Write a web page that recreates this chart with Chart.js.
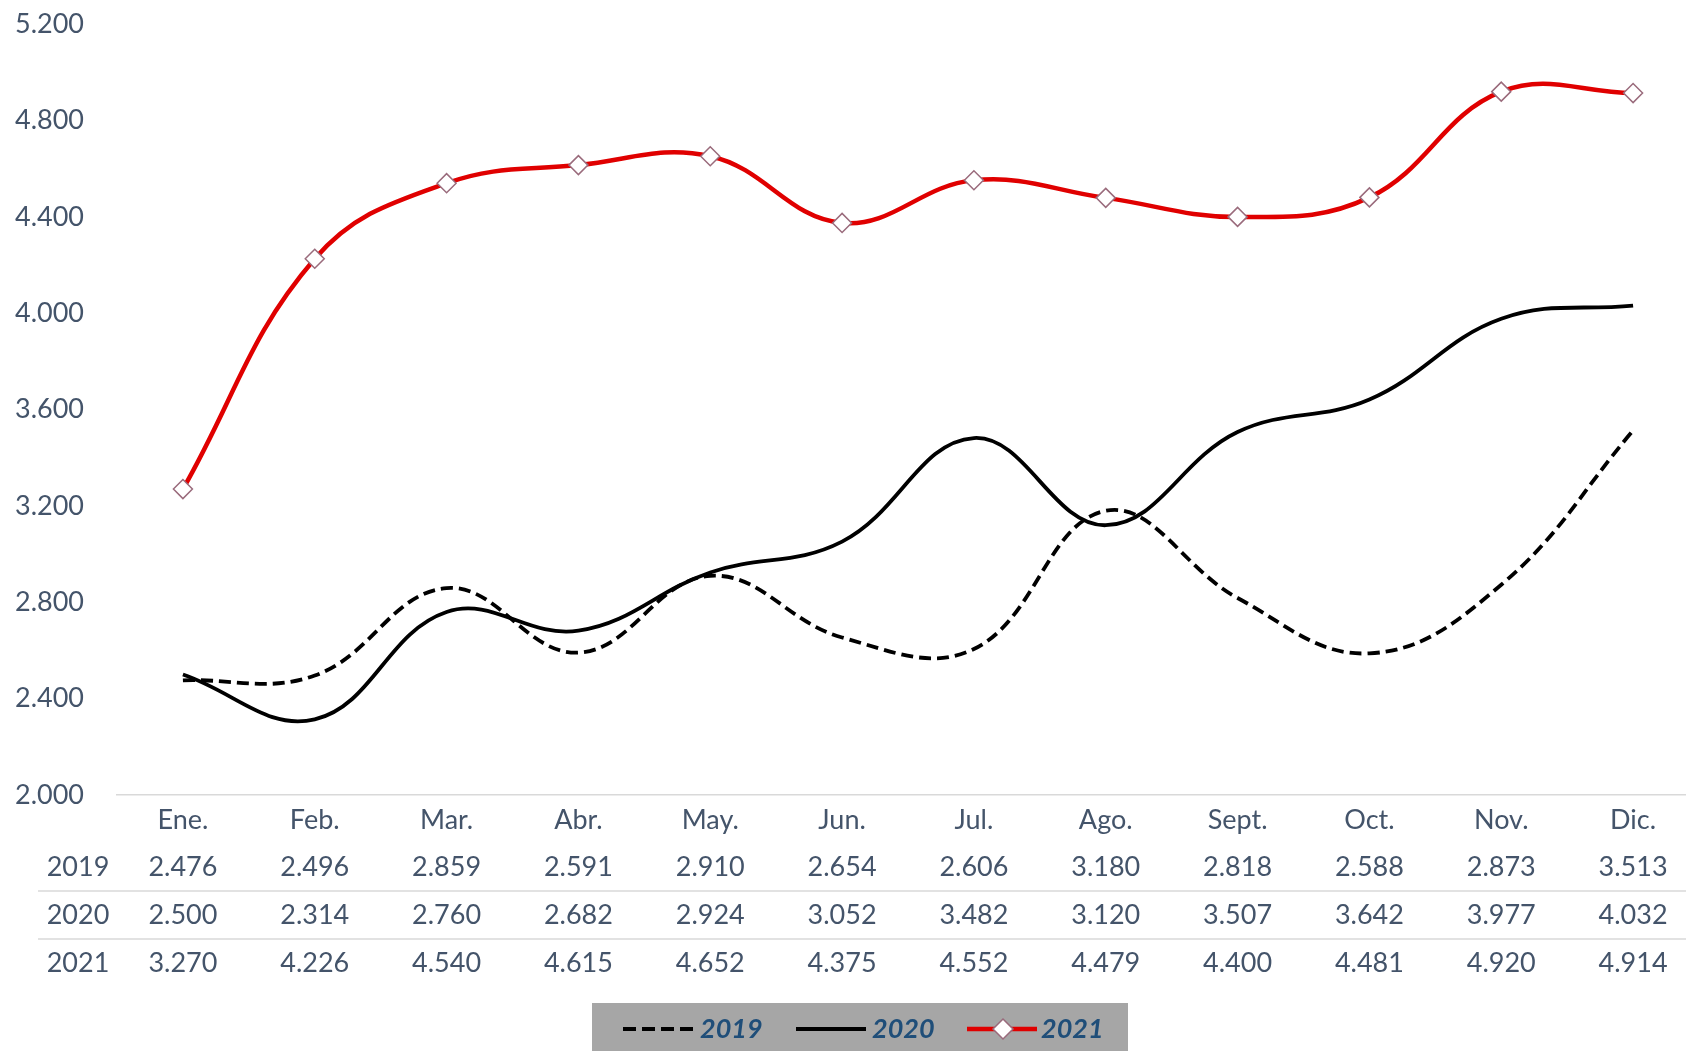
<!DOCTYPE html>
<html>
<head>
<meta charset="utf-8">
<script src="https://cdn.jsdelivr.net/npm/chart.js@4.4.1/dist/chart.umd.min.js"></script>
<style>
  html, body { margin: 0; padding: 0; background: #ffffff; width: 1686px; height: 1051px; overflow: hidden; }
  #wrap { width: 1710px; height: 1051px; }
</style>
</head>
<body>
<div id="wrap"><canvas id="c" width="1710" height="1051"></canvas></div>
<script>
const months = ['Ene.', 'Feb.', 'Mar.', 'Abr.', 'May.', 'Jun.', 'Jul.', 'Ago.', 'Sept.', 'Oct.', 'Nov.', 'Dic.'];
const seriesNames = ['2019', '2020', '2021'];
const values2019 = [2476, 2496, 2859, 2591, 2910, 2654, 2606, 3180, 2818, 2588, 2873, 3513];
const values2020 = [2500, 2314, 2760, 2682, 2924, 3052, 3482, 3120, 3507, 3642, 3977, 4032];
const values2021 = [3270, 4226, 4540, 4615, 4652, 4375, 4552, 4479, 4400, 4481, 4920, 4914];
const yTicks = [2000, 2400, 2800, 3200, 3600, 4000, 4400, 4800, 5200];

const TEXT = '#44546a';
const LEGEND_TEXT = '#1f4e79';
const RED = '#e00000';
const FONT = 'Lato, "Open Sans", sans-serif';

function fmt(n) {
  return Math.floor(n / 1000) + '.' + String(n % 1000).padStart(3, '0');
}

const tablePlugin = {
  id: 'tableLegend',
  afterDraw(chart) {
    const ctx = chart.ctx;
    const xs = chart.scales.x;
    const W = chart.width;
    ctx.save();
    ctx.font = '27px ' + FONT;
    ctx.fillStyle = TEXT;
    ctx.textAlign = 'center';
    ctx.textBaseline = 'middle';
    months.forEach((m, i) => {
      ctx.fillText(m, xs.getPixelForValue(i), 820);
    });
    const rows = [values2019, values2020, values2021];
    const rowY = [867, 915, 963];
    rows.forEach((vals, r) => {
      ctx.textAlign = 'center';
      ctx.fillText(seriesNames[r], 78, rowY[r]);
      vals.forEach((v, i) => {
        ctx.fillText(fmt(v), xs.getPixelForValue(i), rowY[r]);
      });
    });
    ctx.strokeStyle = '#d9d9d9';
    ctx.lineWidth = 1.5;
    [891, 939].forEach(y => {
      ctx.beginPath();
      ctx.moveTo(38, y);
      ctx.lineTo(W, y);
      ctx.stroke();
    });
    // legend box
    ctx.fillStyle = '#a6a6a6';
    ctx.fillRect(592, 1003, 536, 60);
    const ly = 1029;
    ctx.lineCap = 'butt';
    ctx.strokeStyle = '#000000';
    ctx.lineWidth = 4;
    ctx.setLineDash([13, 6]);
    ctx.beginPath(); ctx.moveTo(623, ly); ctx.lineTo(696, ly); ctx.stroke();
    ctx.setLineDash([]);
    ctx.beginPath(); ctx.moveTo(796, ly); ctx.lineTo(866, ly); ctx.stroke();
    ctx.strokeStyle = RED;
    ctx.lineWidth = 4.5;
    ctx.beginPath(); ctx.moveTo(967, ly); ctx.lineTo(1037, ly); ctx.stroke();
    ctx.fillStyle = '#ffffff';
    ctx.strokeStyle = '#9a6b7c';
    ctx.lineWidth = 1.5;
    ctx.beginPath();
    ctx.moveTo(1003, ly - 10); ctx.lineTo(1013, ly); ctx.lineTo(1003, ly + 10); ctx.lineTo(993, ly); ctx.closePath();
    ctx.fill(); ctx.stroke();
    ctx.font = 'italic bold 27px ' + FONT;
    ctx.fillStyle = LEGEND_TEXT;
    ctx.textAlign = 'left';
    ctx.fillText(seriesNames[0], 700, ly);
    ctx.fillText(seriesNames[1], 872, ly);
    ctx.fillText(seriesNames[2], 1041, ly);
    ctx.restore();
  }
};

new Chart(document.getElementById('c'), {
  type: 'line',
  data: {
    labels: months,
    datasets: [
      {
        label: seriesNames[0],
        data: values2019,
        borderColor: '#000000',
        borderWidth: 3.8,
        borderDash: [12, 6],
        pointRadius: 0,
        tension: 0.4,
        fill: false
      },
      {
        label: seriesNames[1],
        data: values2020,
        borderColor: '#000000',
        borderWidth: 3.8,
        pointRadius: 0,
        tension: 0.4,
        fill: false
      },
      {
        label: seriesNames[2],
        data: values2021,
        borderColor: RED,
        borderWidth: 4.5,
        pointStyle: 'rectRot',
        pointRadius: 9.5,
        pointBackgroundColor: '#ffffff',
        pointBorderColor: '#9a6b7c',
        pointBorderWidth: 1.5,
        tension: 0.4,
        fill: false
      }
    ]
  },
  options: {
    responsive: false,
    animation: false,
    devicePixelRatio: 1,
    layout: { padding: { left: 15, top: 24, right: 0, bottom: 256 } },
    plugins: { legend: { display: false }, tooltip: { enabled: false } },
    scales: {
      x: {
        type: 'category',
        offset: true,
        ticks: { display: false },
        grid: { display: false, drawTicks: false },
        border: { display: true, color: '#d9d9d9', width: 1.5 },
        afterFit(s) { s.height = 0; }
      },
      y: {
        min: 2000,
        max: 5200,
        afterBuildTicks(s) { s.ticks = yTicks.map(v => ({ value: v })); },
        ticks: {
          crossAlign: 'far',
          color: TEXT,
          font: { family: FONT, size: 27 },
          padding: 8,
          callback: v => fmt(v)
        },
        grid: { display: false, drawTicks: false },
        border: { display: false },
        afterFit(s) { s.width = 102; }
      }
    }
  },
  plugins: [tablePlugin]
});
</script>
</body>
</html>
